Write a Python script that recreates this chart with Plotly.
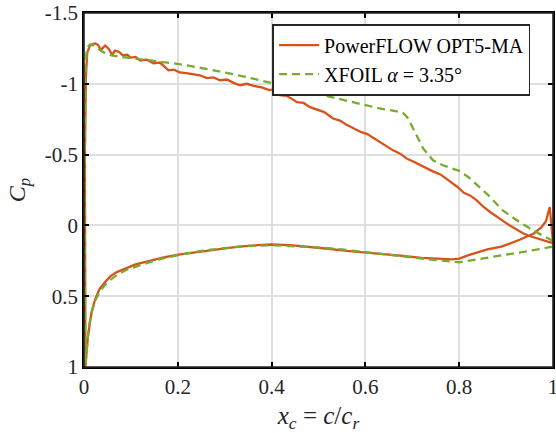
import plotly.graph_objects as go

# ---- PowerFLOW OPT5-MA (upper surface, LE -> TE) ----
pf_up_x = [0.002, 0.004, 0.007, 0.012, 0.018, 0.024, 0.030, 0.036, 0.045, 0.052, 0.060, 0.066,
           0.075, 0.083, 0.092, 0.100, 0.110, 0.120, 0.134, 0.148, 0.162, 0.172, 0.180, 0.192,
           0.204, 0.218, 0.232, 0.247, 0.262, 0.276, 0.290, 0.305, 0.320, 0.333, 0.347, 0.362,
           0.379, 0.395, 0.405, 0.418, 0.432, 0.445, 0.454, 0.468, 0.482, 0.497, 0.512, 0.531,
           0.546, 0.560, 0.574, 0.590, 0.604, 0.617, 0.631, 0.645, 0.659, 0.675, 0.689, 0.703,
           0.717, 0.731, 0.745, 0.760, 0.774, 0.785, 0.795, 0.810, 0.824, 0.838, 0.852, 0.866,
           0.880, 0.894, 0.908, 0.922, 0.936, 0.950, 0.964, 0.978, 0.990, 1.000]
pf_up_cp = [-0.50, -1.05, -1.22, -1.265, -1.28, -1.285, -1.275, -1.24, -1.27, -1.25, -1.205, -1.235,
            -1.225, -1.20, -1.205, -1.185, -1.19, -1.165, -1.17, -1.145, -1.15, -1.12, -1.095, -1.10,
            -1.08, -1.075, -1.07, -1.06, -1.04, -1.045, -1.025, -1.03, -1.005, -0.99, -1.0, -0.985,
            -0.975, -0.955, -0.96, -0.92, -0.915, -0.89, -0.87, -0.865, -0.835, -0.815, -0.80, -0.755,
            -0.74, -0.71, -0.685, -0.66, -0.645, -0.615, -0.59, -0.56, -0.53, -0.505, -0.47, -0.45,
            -0.43, -0.405, -0.38, -0.36, -0.33, -0.30, -0.275, -0.23, -0.21, -0.175, -0.13, -0.095,
            -0.06, -0.03, 0.0, 0.03, 0.055, 0.075, 0.09, 0.105, 0.115, 0.125]

# ---- PowerFLOW OPT5-MA (lower surface, LE -> TE) ----
pf_lo_x = [0.003, 0.005, 0.008, 0.012, 0.017, 0.024, 0.033, 0.045, 0.056, 0.070, 0.090, 0.110,
           0.140, 0.170, 0.205, 0.247, 0.290, 0.330, 0.370, 0.400, 0.440, 0.480, 0.520, 0.560,
           0.600, 0.640, 0.680, 0.720, 0.760, 0.785, 0.800, 0.820, 0.860, 0.890, 0.930, 0.960,
           0.975, 0.985, 0.993, 1.000]
pf_lo_cp = [1.0, 0.90, 0.80, 0.70, 0.60, 0.52, 0.45, 0.40, 0.36, 0.33, 0.30, 0.275,
            0.25, 0.225, 0.205, 0.185, 0.165, 0.15, 0.14, 0.135, 0.14, 0.15, 0.165, 0.18,
            0.19, 0.205, 0.215, 0.23, 0.235, 0.24, 0.235, 0.21, 0.17, 0.15, 0.10, 0.055,
            0.015, -0.03, -0.13, 0.12]

# ---- XFOIL alpha = 3.35 deg (upper surface, LE -> TE) ----
xf_up_x = [0.001, 0.003, 0.006, 0.012, 0.017, 0.025, 0.040, 0.060, 0.080, 0.100, 0.120, 0.150,
           0.190, 0.220, 0.247, 0.300, 0.350, 0.400, 0.450, 0.500, 0.550, 0.600, 0.630, 0.667,
           0.680, 0.690, 0.706, 0.723, 0.744, 0.765, 0.785, 0.800, 0.820, 0.860, 0.893, 0.930,
           0.966, 1.000]
xf_up_cp = [-0.30, -1.10, -1.25, -1.275, -1.28, -1.26, -1.225, -1.20, -1.19, -1.18, -1.17, -1.16,
            -1.145, -1.13, -1.116, -1.08, -1.045, -1.01, -0.97, -0.925, -0.89, -0.85, -0.826, -0.805,
            -0.795, -0.76, -0.657, -0.544, -0.46, -0.425, -0.40, -0.385, -0.34, -0.22, -0.106, -0.02,
            0.05, 0.11]

# ---- XFOIL alpha = 3.35 deg (lower surface, LE -> TE) ----
xf_lo_x = [0.003, 0.006, 0.010, 0.016, 0.024, 0.035, 0.050, 0.070, 0.090, 0.120, 0.160, 0.200,
           0.250, 0.300, 0.350, 0.400, 0.450, 0.500, 0.550, 0.600, 0.650, 0.700, 0.750, 0.800,
           0.850, 0.900, 0.950, 1.000]
xf_lo_cp = [0.98, 0.85, 0.72, 0.62, 0.53, 0.46, 0.40, 0.35, 0.315, 0.28, 0.24, 0.21,
            0.18, 0.16, 0.145, 0.14, 0.145, 0.155, 0.17, 0.19, 0.21, 0.23, 0.245, 0.26,
            0.235, 0.21, 0.18, 0.15]

x_ticks = [0, 0.2, 0.4, 0.6, 0.8, 1]
x_tick_labels = ["0", "0.2", "0.4", "0.6", "0.8", "1"]
y_ticks = [-1.5, -1, -0.5, 0, 0.5, 1]
y_tick_labels = ["-1.5", "-1", "-0.5", "0", "0.5", "1"]

FONT = "Liberation Serif"
TXT = "#262626"

pf_x = pf_up_x[::-1] + pf_lo_x
pf_cp = pf_up_cp[::-1] + pf_lo_cp
xf_x = xf_up_x[::-1] + xf_lo_x
xf_cp = xf_up_cp[::-1] + xf_lo_cp

fig = go.Figure()
fig.add_trace(go.Scatter(x=pf_x, y=pf_cp, mode="lines", name="PowerFLOW OPT5-MA",
                         line=dict(color="#D95319", width=2.3)))
fig.add_trace(go.Scatter(x=xf_x, y=xf_cp, mode="lines", name="XFOIL <i>α</i> = 3.35°",
                         line=dict(color="#77AC30", width=2.3, dash="8px,5px")))

axis_common = dict(showline=True, linecolor="black", linewidth=1.6, mirror="allticks",
                   ticks="inside", ticklen=5, tickwidth=1.6, tickcolor="black",
                   showgrid=True, gridcolor="#dfdfdf", gridwidth=1.6, zeroline=False,
                   ticklabeloverflow="allow", layer="above traces",
                   tickfont=dict(family=FONT, size=21, color=TXT))

fig.update_xaxes(range=[0, 1], tickvals=x_ticks, ticktext=x_tick_labels,
                 title=dict(text="<i>x</i><sub><i>c</i></sub> = <i>c</i>/<i>c</i><sub><i>r</i></sub>",
                            font=dict(family=FONT, size=25, color=TXT), standoff=15),
                 **axis_common)
fig.update_yaxes(range=[1, -1.5], tickvals=y_ticks, ticktext=y_tick_labels,
                 title=dict(text="<i>C</i><sub><i>p</i></sub>",
                            font=dict(family=FONT, size=24, color=TXT), standoff=12),
                 **axis_common)

# axes box (frame)
fig.add_shape(type="rect", xref="paper", yref="paper", x0=0, x1=1, y0=0, y1=1,
              line=dict(color="#262626", width=1.6), fillcolor="rgba(0,0,0,0)", layer="above")

fig.update_layout(
    width=556, height=433,
    margin=dict(l=84, r=3, t=13, b=66, autoexpand=False),
    paper_bgcolor="white", plot_bgcolor="white",
    showlegend=True,
    legend=dict(x=0.952, y=0.969, xanchor="right", yanchor="top",
                bgcolor="white", bordercolor="#262626", borderwidth=1.6,
                font=dict(family=FONT, size=20, color="black"),
                tracegroupgap=0, itemwidth=40),
)

fig.write_html("out.html", config={"displayModeBar": False},
               post_script="document.body.style.margin='0';document.body.style.overflow='hidden';")
